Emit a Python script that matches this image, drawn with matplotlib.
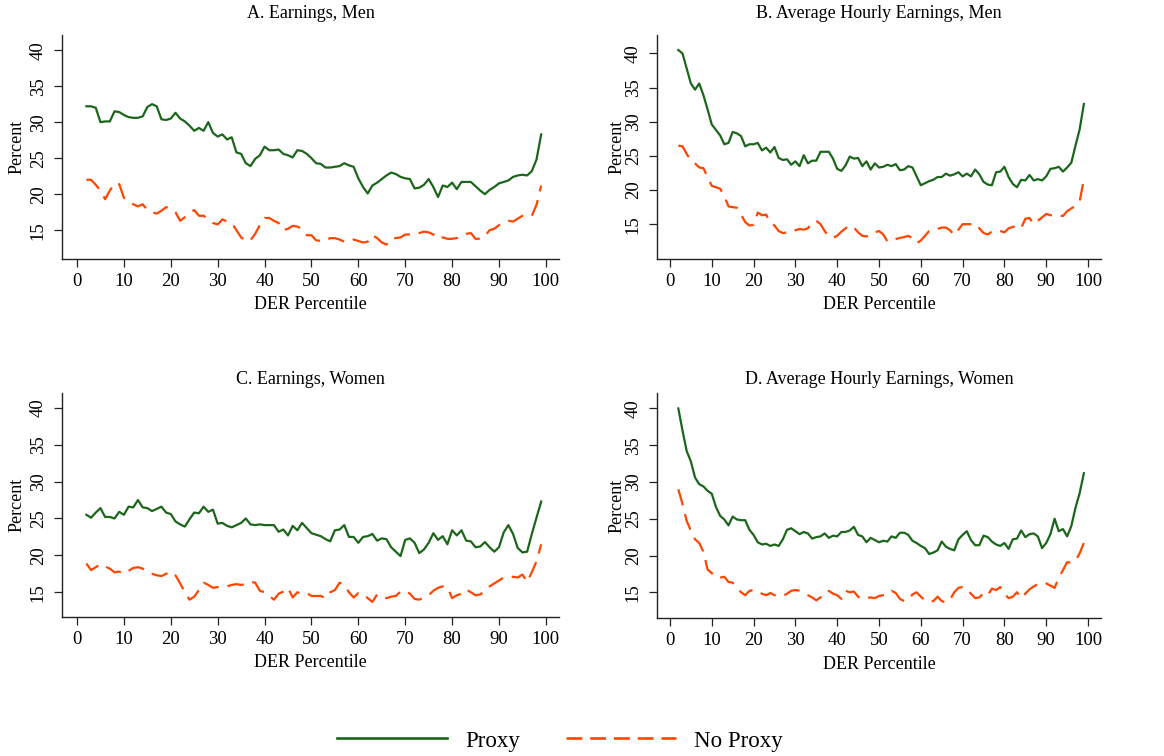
# plot.py
# Proxy vs no-proxy shares across the DER percentile distribution, four panels

import matplotlib
matplotlib.use("Agg")
import matplotlib.pyplot as plt
from matplotlib.lines import Line2D

# DER percentiles 2..99
percentiles = list(range(2, 100))

earn_men_proxy = [
    32.2, 32.2, 32.0, 30.0, 30.1, 30.1, 31.5, 31.4,
    31.0, 30.7, 30.6, 30.6, 30.8, 32.1, 32.5, 32.2, 30.4, 30.3,
    30.5, 31.3, 30.5, 30.1, 29.5, 28.8, 29.2, 28.8, 30.0, 28.5,
    28.0, 28.3, 27.6, 27.9, 25.8, 25.6, 24.3, 23.9, 24.9, 25.4,
    26.6, 26.1, 26.1, 26.2, 25.6, 25.4, 25.1, 26.1, 26.0, 25.6,
    25.0, 24.3, 24.2, 23.7, 23.7, 23.8, 23.9, 24.3, 24.0, 23.8,
    22.2, 21.0, 20.1, 21.2, 21.6, 22.1, 22.6, 23.0, 22.8, 22.4,
    22.2, 22.1, 20.8, 20.9, 21.3, 22.1, 21.0, 19.6, 21.2, 21.0,
    21.6, 20.7, 21.7, 21.7, 21.7, 21.1, 20.5, 20.0, 20.6, 21.0,
    21.5, 21.7, 21.9, 22.4, 22.6, 22.7, 22.6, 23.2, 24.8, 28.3,
]
earn_men_noproxy = [
    22.0, 22.0, 21.3, 20.5, 19.3, 20.5, 21.5, 21.4,
    19.5, 19.0, 18.6, 18.3, 18.6, 17.8, 17.5, 17.3, 17.7, 18.2,
    18.0, 17.5, 16.3, 16.8, 17.3, 17.8, 17.0, 17.0, 16.5, 16.0,
    15.8, 16.5, 16.2, 16.0, 15.0, 14.0, 13.5, 13.6, 14.5, 15.7,
    16.7, 16.7, 16.3, 16.0, 15.0, 15.2, 15.6, 15.5, 15.2, 14.3,
    14.3, 13.6, 13.5, 13.5, 13.9, 13.9, 13.7, 13.4, 13.5, 13.7,
    13.5, 13.3, 13.4, 14.3, 13.9, 13.3, 13.0, 13.8, 13.9, 14.0,
    14.4, 14.4, 14.4, 14.6, 14.8, 14.7, 14.4, 13.8, 14.0, 13.8,
    13.8, 13.9, 14.3, 14.5, 14.6, 13.8, 13.8, 14.2, 15.0, 15.2,
    15.7, 16.0, 16.3, 16.2, 16.6, 17.0, 16.9, 17.0, 18.5, 21.2,
]

hourly_men_proxy = [
    40.5, 40.0, 37.8, 35.6, 34.7, 35.6, 33.9, 31.8,
    29.6, 28.8, 28.0, 26.7, 26.9, 28.5, 28.3, 27.9, 26.4, 26.7,
    26.7, 26.9, 25.8, 26.2, 25.5, 26.3, 24.7, 24.4, 24.5, 23.7,
    24.2, 23.5, 25.1, 23.9, 24.3, 24.3, 25.6, 25.6, 25.6, 24.6,
    23.1, 22.8, 23.6, 24.9, 24.6, 24.7, 23.5, 24.2, 23.0, 23.9,
    23.3, 23.4, 23.7, 23.5, 23.8, 22.9, 23.0, 23.5, 23.3, 22.0,
    20.7, 21.0, 21.3, 21.5, 21.9, 21.9, 22.4, 22.1, 22.3, 22.6,
    22.0, 22.4, 22.0, 23.0, 22.3, 21.2, 20.8, 20.7, 22.6, 22.7,
    23.4, 21.9, 20.9, 20.4, 21.5, 21.4, 22.2, 21.4, 21.6, 21.4,
    22.0, 23.1, 23.2, 23.4, 22.7, 23.3, 24.0, 26.5, 28.9, 32.6,
]
hourly_men_noproxy = [
    26.5, 26.4, 25.3, 24.3, 23.9, 23.3, 23.2, 21.9,
    20.6, 20.4, 20.2, 19.1, 17.6, 17.5, 17.4, 16.4, 15.3, 14.8,
    14.9, 16.7, 16.3, 16.4, 15.2, 14.8, 14.0, 13.7, 13.8, 13.8,
    14.1, 14.3, 14.2, 14.4, 15.2, 15.5, 15.0, 14.0, 13.2, 13.0,
    13.3, 13.9, 14.4, 14.8, 14.5, 13.8, 13.3, 13.2, 13.3, 13.8,
    14.0, 13.5, 12.5, 12.5, 12.8, 13.0, 13.1, 13.3, 12.9, 12.2,
    12.6, 13.3, 14.0, 14.1, 14.3, 14.5, 14.5, 14.1, 13.4, 14.2,
    15.0, 15.0, 15.0, 15.1, 14.4, 13.7, 13.5, 13.9, 14.1, 14.0,
    13.8, 14.4, 14.6, 14.7, 14.4, 15.8, 15.9, 15.0, 15.5, 16.0,
    16.5, 16.3, 16.4, 16.3, 16.2, 16.9, 17.3, 17.7, 18.4, 21.5,
]

earn_women_proxy = [
    25.5, 25.1, 25.8, 26.4, 25.2, 25.2, 25.0, 25.9,
    25.5, 26.6, 26.5, 27.5, 26.5, 26.4, 26.0, 26.3, 26.6, 25.8,
    25.6, 24.6, 24.2, 23.9, 24.9, 25.8, 25.7, 26.6, 25.9, 26.2,
    24.3, 24.4, 24.0, 23.8, 24.1, 24.4, 25.0, 24.2, 24.1, 24.2,
    24.1, 24.1, 24.1, 23.2, 23.5, 22.7, 24.0, 23.4, 24.4, 23.7,
    23.0, 22.8, 22.6, 22.2, 21.9, 23.4, 23.5, 24.1, 22.5, 22.5,
    21.7, 22.5, 22.6, 22.9, 22.0, 22.3, 22.2, 21.1, 20.5, 19.9,
    22.1, 22.3, 21.7, 20.3, 20.8, 21.7, 23.0, 22.1, 22.6, 21.5,
    23.4, 22.7, 23.4, 22.0, 21.9, 21.1, 21.2, 21.8, 21.1, 20.5,
    21.1, 23.1, 24.1, 22.9, 21.0, 20.4, 20.5, 22.9, 25.1, 27.3,
]
earn_women_noproxy = [
    18.9, 18.0, 18.4, 18.8, 18.5, 18.2, 17.7, 17.8,
    17.5, 17.9, 18.3, 18.4, 18.2, 17.8, 17.5, 17.3, 17.2, 17.5,
    17.8, 17.3, 16.2, 15.0, 14.0, 14.4, 15.3, 16.3, 16.0, 15.6,
    15.7, 15.7, 15.8, 16.0, 16.1, 16.0, 16.1, 16.4, 16.3, 15.2,
    15.0, 14.5, 14.0, 14.8, 15.1, 15.6, 14.3, 15.0, 14.8, 14.9,
    14.5, 14.5, 14.5, 14.2, 15.0, 15.3, 16.3, 16.0, 15.0, 14.3,
    14.9, 14.8, 14.2, 13.7, 14.7, 14.5, 14.2, 14.4, 14.5, 15.1,
    15.2, 14.8, 14.1, 14.0, 14.3, 14.6, 15.2, 15.6, 15.8, 15.7,
    14.2, 14.6, 14.8, 15.4, 15.0, 14.6, 14.7, 15.2, 15.8, 16.2,
    16.6, 17.0, 17.0, 17.1, 17.0, 17.4, 16.4, 17.7, 19.2, 21.5,
]

hourly_women_proxy = [
    40.0, 37.0, 34.2, 32.8, 30.6, 29.7, 29.4, 28.8,
    28.4, 26.6, 25.4, 24.9, 24.1, 25.3, 24.9, 24.8, 24.8, 23.5,
    22.8, 21.8, 21.5, 21.6, 21.3, 21.5, 21.3, 22.2, 23.5, 23.7,
    23.3, 22.9, 23.2, 23.0, 22.3, 22.5, 22.6, 23.0, 22.4, 22.7,
    22.6, 23.2, 23.2, 23.4, 23.9, 22.8, 22.6, 21.8, 22.4, 22.1,
    21.8, 22.0, 21.9, 22.6, 22.4, 23.1, 23.1, 22.8, 22.0, 21.7,
    21.3, 21.0, 20.2, 20.4, 20.7, 21.9, 21.2, 20.9, 20.7, 22.2,
    22.8, 23.3, 22.1, 21.4, 21.4, 22.7, 22.5, 21.9, 21.5, 21.3,
    21.7, 20.9, 22.2, 22.3, 23.4, 22.5, 22.9, 23.0, 22.6, 21.0,
    21.7, 22.9, 25.0, 23.3, 23.6, 22.6, 24.0, 26.5, 28.5, 31.2,
]
hourly_women_noproxy = [
    29.0, 27.0, 24.7, 23.4, 22.2, 21.7, 20.5, 18.1,
    17.6, 17.0, 17.0, 17.1, 16.4, 16.3, 15.6, 15.0, 14.6, 15.2,
    15.3, 15.2, 14.8, 14.6, 14.9, 14.6, 14.6, 14.5, 14.8, 15.2,
    15.3, 15.2, 14.9, 14.6, 14.3, 13.9, 14.3, 14.5, 15.2, 14.8,
    14.6, 14.1, 15.2, 15.0, 15.1, 14.4, 14.1, 14.2, 14.3, 14.2,
    14.5, 14.6, 14.7, 15.2, 14.9, 14.1, 13.8, 14.0, 14.7, 15.0,
    14.4, 13.9, 13.7, 13.8, 14.4, 13.8, 13.6, 14.0, 15.0, 15.6,
    15.7, 15.5, 14.8, 14.2, 14.3, 14.9, 14.6, 15.5, 15.3, 15.7,
    14.8, 14.2, 14.4, 15.0, 14.2, 14.8, 15.4, 15.8, 16.1, 16.3,
    16.2, 15.9, 15.6, 17.0, 18.0, 19.1, 19.0, 19.3, 20.3, 21.7,
]

titles = [
    "A. Earnings, Men",
    "B. Average Hourly Earnings, Men",
    "C. Earnings, Women",
    "D. Average Hourly Earnings, Women",
]

GREEN = "#1b661b"
ORANGE = "#ff4500"
DASH = (0, (7.5, 4))
FONT = "Liberation Serif"

W, H = 1164, 756


# pixel box (left, top, right, bottom) -> figure fraction rect
def rect(l, t, r, b):
    return [l / W, 1 - b / H, (r - l) / W, (b - t) / H]


def draw_panel(fig, box, title, title_y, proxy, noproxy, xlim, ylim):
    ax = fig.add_axes(rect(*box))
    ax.plot(percentiles, proxy, color=GREEN, lw=1.6, solid_joinstyle="round")
    ax.plot(percentiles, noproxy, color=ORANGE, lw=1.6, linestyle=DASH)
    ax.set_xlim(*xlim)
    ax.set_ylim(*ylim)
    ax.set_xticks(range(0, 101, 10))
    ax.set_yticks(range(15, 41, 5))
    for s in ["top", "right"]:
        ax.spines[s].set_visible(False)
    for s in ["left", "bottom"]:
        ax.spines[s].set_linewidth(1.0)
        ax.spines[s].set_color("#222222")
    ax.tick_params(length=6, width=0.9, color="#222222", labelsize=13.5, pad=4)
    ax.tick_params(axis="y", labelrotation=90, pad=5)
    for lab in ax.get_xticklabels() + ax.get_yticklabels():
        lab.set_fontfamily(FONT)
    for lab in ax.get_yticklabels():
        lab.set_va("center")
    ax.set_xlabel("DER Percentile", fontsize=13, fontfamily=FONT, va="center")
    ax.xaxis.set_label_coords(0.5, -0.205)
    ax.set_ylabel("Percent", fontsize=13, fontfamily=FONT, va="center")
    ax.yaxis.set_label_coords(-0.09, 0.5)
    l, t, r, b = box
    fig.text((l + r) / 2 / W, 1 - title_y / H, title, ha="center", va="center",
             fontsize=13, fontfamily=FONT)
    return ax


def main():
    fig = plt.figure(figsize=(W / 100, H / 100), dpi=100)
    fig.patch.set_facecolor("white")

    draw_panel(fig, (62, 35, 559, 259), titles[0], 13,
               earn_men_proxy, earn_men_noproxy, (-3.2, 102.8), (11.0, 42.1))
    draw_panel(fig, (657, 35, 1101, 259), titles[1], 13,
               hourly_men_proxy, hourly_men_noproxy, (-3.1, 103.1), (9.9, 42.7))
    draw_panel(fig, (62, 393, 559, 617), titles[2], 380,
               earn_women_proxy, earn_women_noproxy, (-3.2, 102.8), (11.65, 42.0))
    draw_panel(fig, (657, 393, 1101, 618), titles[3], 380,
               hourly_women_proxy, hourly_women_noproxy, (-3.1, 103.1), (11.5, 42.1))

    handles = [
        Line2D([], [], color=GREEN, lw=1.9),
        Line2D([], [], color=ORANGE, lw=1.9, linestyle=(0, (6, 3))),
    ]
    fig.legend(handles, ["Proxy", "No Proxy"], loc="center",
               bbox_to_anchor=(560 / W, 1 - 741 / H), ncol=2, frameon=False,
               prop={"family": FONT, "size": 16.5}, handlelength=4.8,
               handletextpad=0.8, columnspacing=2.0)

    fig.savefig("out.png", dpi=100, facecolor="white")


if __name__ == "__main__":
    main()
